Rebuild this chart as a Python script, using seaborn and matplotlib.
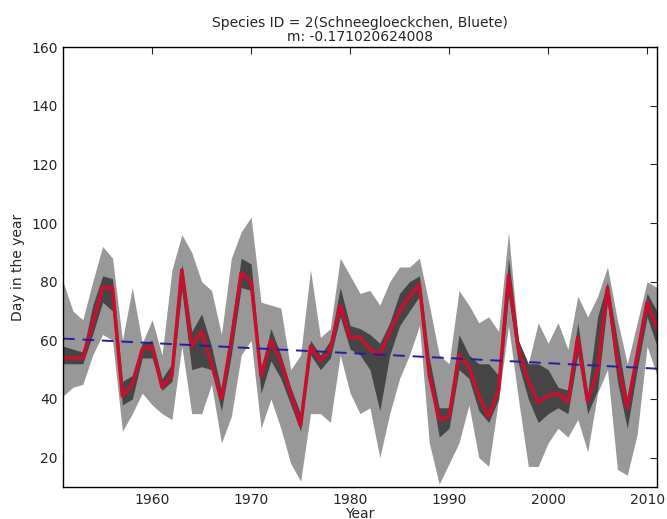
"""
Phenology plot: day in the year of first flowering for one species,
median with two percentile bands and a linear trend line.
"""

import numpy as np
import pandas as pd
import matplotlib
matplotlib.use("Agg")
import matplotlib.pyplot as plt
import seaborn as sns

# years of observation
years = list(range(1951, 2012))

# median day in the year (red line)
median = [54, 54, 54, 66, 78, 78, 41, 45, 57, 58, 44, 48, 84, 58, 63, 52, 40, 60, 83, 80,
          48, 60, 53, 42, 31, 58, 53, 57, 72, 61, 61, 57, 55, 63, 70, 75, 79, 48, 33, 34,
          55, 51, 41, 34, 43, 82, 57, 46, 39, 41, 42, 39, 61, 39, 50, 78, 53, 37, 55, 73,
          64]

# inner band (dark grey)
inner_low = [52, 52, 52, 62, 73, 70, 38, 40, 54, 54, 43, 46, 77, 50, 51, 50, 36, 55, 78, 77,
             42, 53, 47, 38, 29, 55, 50, 54, 68, 57, 55, 50, 36, 55, 65, 70, 75, 47, 27, 30,
             50, 47, 36, 32, 40, 75, 52, 40, 32, 35, 37, 35, 55, 35, 43, 73, 46, 30, 50, 68,
             58]
inner_high = [58, 57, 56, 72, 82, 81, 46, 48, 59, 60, 47, 52, 86, 63, 69, 58, 43, 65, 88, 86,
              50, 64, 55, 44, 35, 60, 55, 60, 78, 65, 64, 62, 59, 66, 76, 80, 82, 54, 37, 37,
              62, 55, 52, 52, 48, 88, 60, 52, 52, 50, 44, 43, 66, 42, 68, 80, 60, 40, 58, 76,
              70]

# outer band (light grey)
outer_low = [41, 44, 45, 55, 62, 60, 29, 35, 42, 38, 35, 33, 58, 35, 35, 45, 25, 34, 55, 60,
             30, 40, 30, 18, 12, 35, 35, 32, 55, 42, 35, 37, 20, 35, 47, 55, 65, 25, 11, 18,
             25, 38, 20, 17, 40, 65, 40, 17, 17, 25, 30, 27, 33, 22, 42, 50, 16, 14, 28, 58,
             48]
outer_high = [80, 70, 67, 80, 92, 88, 60, 78, 59, 67, 55, 84, 96, 90, 80, 77, 62, 88, 97, 102,
              73, 72, 71, 50, 55, 84, 61, 64, 88, 82, 76, 77, 72, 80, 85, 85, 88, 72, 55, 52,
              77, 72, 66, 68, 63, 97, 60, 52, 66, 59, 66, 57, 75, 68, 75, 85, 67, 52, 66, 80,
              78]

# linear trend (blue dashed)
trend_slope = -0.171020624008
trend_start = 60.6

species_title = "Species ID = 2(Schneegloeckchen, Bluete)"


def main():
    df = pd.DataFrame({
        "year": years,
        "median": median,
        "inner_low": inner_low,
        "inner_high": inner_high,
        "outer_low": outer_low,
        "outer_high": outer_high,
    })
    df["trend"] = trend_start + trend_slope * (df["year"] - years[0])

    sns.set_style("white")
    plt.rcParams["font.family"] = ["DejaVu Sans"]

    fig = plt.figure(figsize=(6.67, 5.19), dpi=100)
    ax = fig.add_axes([0.0945, 0.0617, 0.8905, 0.8477])

    ax.fill_between(df["year"], df["outer_low"], df["outer_high"],
                    color="#989898", linewidth=0)
    ax.fill_between(df["year"], df["inner_low"], df["inner_high"],
                    color="#454545", linewidth=0)
    sns.lineplot(data=df, x="year", y="median", ax=ax,
                 color="#c8102e", linewidth=2.6)
    sns.lineplot(data=df, x="year", y="trend", ax=ax,
                 color="#1f1fa0", linewidth=1.4, linestyle=(0, (6, 4)))

    ax.set_xlim(1951, 2011)
    ax.set_ylim(10, 160)
    ax.set_xticks([1960, 1970, 1980, 1990, 2000, 2010])
    ax.set_yticks(list(range(20, 161, 20)))
    ax.tick_params(axis="both", labelsize=10, length=5, width=0.8,
                   top=True, right=True, direction="in", pad=4)
    for side in ax.spines.values():
        side.set_visible(True)
        side.set_color("black")
        side.set_linewidth(1.0)

    ax.set_xlabel("Year", fontsize=10, labelpad=0)
    ax.set_ylabel("Day in the year", fontsize=10)
    ax.set_title(species_title + "\nm: " + str(trend_slope),
                 fontsize=10, pad=4, linespacing=1.05)

    fig.savefig("out.png", dpi=100)
    plt.close(fig)


if __name__ == "__main__":
    main()
